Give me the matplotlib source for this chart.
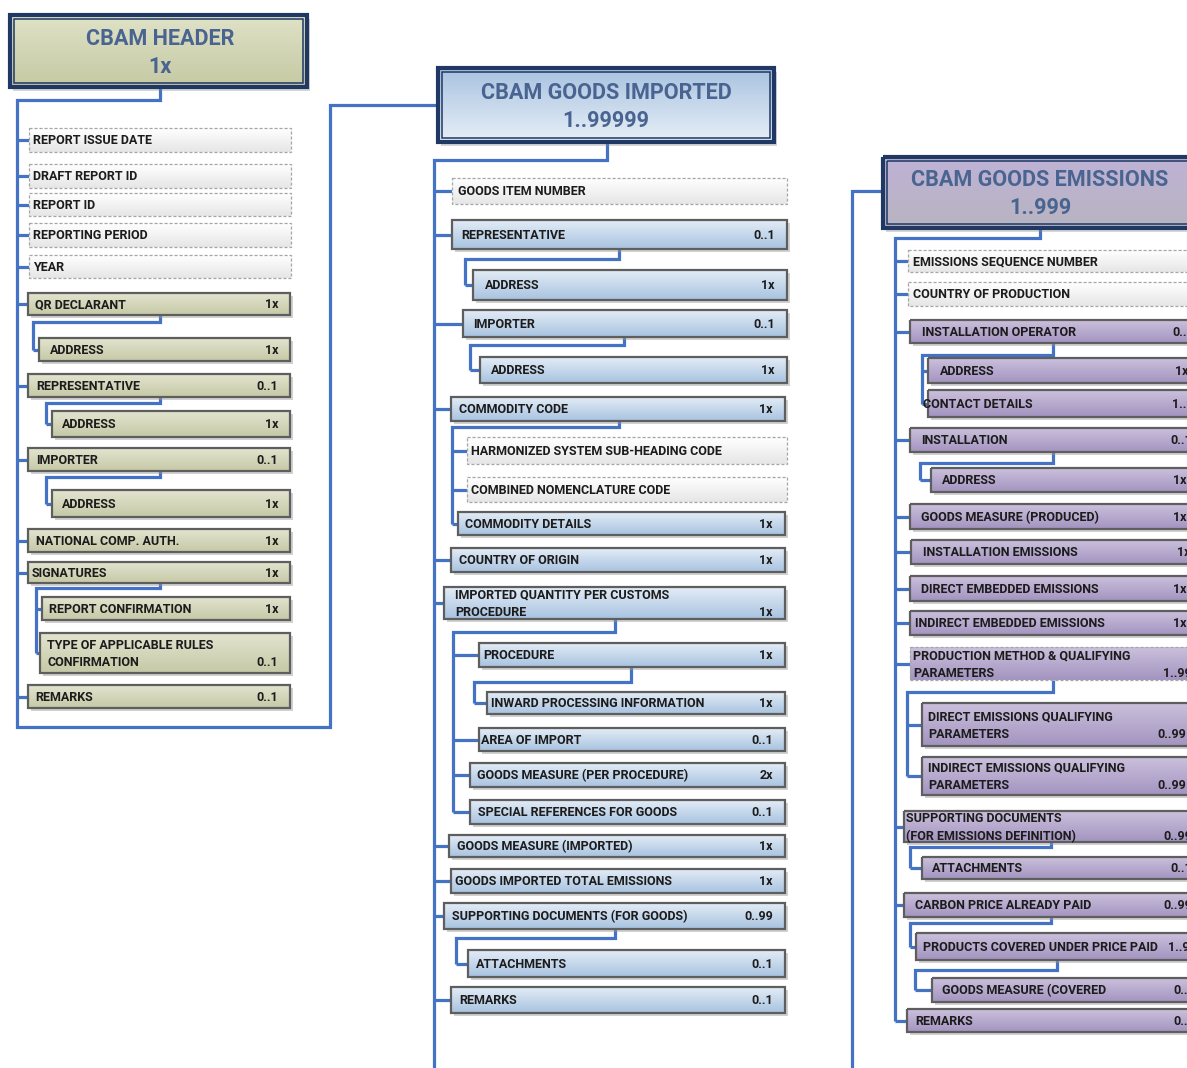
import numpy as np
import matplotlib
matplotlib.use("Agg")
import matplotlib.pyplot as plt
from matplotlib.patches import Rectangle
from matplotlib.colors import LinearSegmentedColormap

plt.rcParams["font.family"] = ["Roboto", "DejaVu Sans"]

W, H = 1187, 1068

# ---------------- data: labels and cardinalities ----------------
TITLES = ["CBAM HEADER", "CBAM GOODS IMPORTED", "CBAM GOODS EMISSIONS"]
TITLE_CARDS = ["1x", "1..99999", "1..999"]

HEADER_LABELS = ["REPORT ISSUE DATE", "DRAFT REPORT ID", "REPORT ID", "REPORTING PERIOD",
                 "YEAR", "QR DECLARANT", "ADDRESS", "REPRESENTATIVE", "ADDRESS", "IMPORTER",
                 "ADDRESS", "NATIONAL COMP. AUTH.", "SIGNATURES", "REPORT CONFIRMATION",
                 "TYPE OF APPLICABLE RULES\nCONFIRMATION", "REMARKS"]
HEADER_CARDS = ["", "", "", "", "", "1x", "1x", "0..1", "1x", "0..1", "1x", "1x", "1x",
                "1x", "0..1", "0..1"]
HEADER_DASHED = [True] * 5 + [False] * 11

GOODS_LABELS = ["GOODS ITEM NUMBER", "REPRESENTATIVE", "ADDRESS", "IMPORTER", "ADDRESS",
                "COMMODITY CODE", "HARMONIZED SYSTEM SUB-HEADING CODE",
                "COMBINED NOMENCLATURE CODE", "COMMODITY DETAILS", "COUNTRY OF ORIGIN",
                "IMPORTED QUANTITY PER CUSTOMS\nPROCEDURE", "PROCEDURE",
                "INWARD PROCESSING INFORMATION", "AREA OF IMPORT",
                "GOODS MEASURE (PER PROCEDURE)", "SPECIAL REFERENCES FOR GOODS",
                "GOODS MEASURE (IMPORTED)", "GOODS IMPORTED TOTAL EMISSIONS",
                "SUPPORTING DOCUMENTS (FOR GOODS)", "ATTACHMENTS", "REMARKS"]
GOODS_CARDS = ["", "0..1", "1x", "0..1", "1x", "1x", "", "", "1x", "1x", "1x", "1x", "1x",
               "0..1", "2x", "0..1", "1x", "1x", "0..99", "0..1", "0..1"]
GOODS_DASHED = [i in (0, 6, 7) for i in range(len(GOODS_LABELS))]

EMIS_LABELS = ["EMISSIONS SEQUENCE NUMBER", "COUNTRY OF PRODUCTION", "INSTALLATION OPERATOR",
               "ADDRESS", "CONTACT DETAILS", "INSTALLATION", "ADDRESS",
               "GOODS MEASURE (PRODUCED)", "INSTALLATION EMISSIONS",
               "DIRECT EMBEDDED EMISSIONS", "INDIRECT EMBEDDED EMISSIONS",
               "PRODUCTION METHOD & QUALIFYING\nPARAMETERS",
               "DIRECT EMISSIONS QUALIFYING\nPARAMETERS",
               "INDIRECT EMISSIONS QUALIFYING\nPARAMETERS",
               "SUPPORTING DOCUMENTS\n(FOR EMISSIONS DEFINITION)", "ATTACHMENTS",
               "CARBON PRICE ALREADY PAID", "PRODUCTS COVERED UNDER PRICE PAID",
               "GOODS MEASURE (COVERED", "REMARKS"]
EMIS_CARDS = ["", "", "0..1", "1x", "1..99", "0..1", "1x", "1x", "1x", "1x", "1x", "1..99",
              "0..99", "0..99", "0..99", "0..1", "0..99", "1..99", "0..1", "0..1"]
EMIS_DASHED = [i in (0, 1, 11) for i in range(len(EMIS_LABELS))]
EMIS_FILLED = [i not in (0, 1) for i in range(len(EMIS_LABELS))]

# ---------------- layout (pixel space) ----------------
TITLE_BOXES = [(10, 15, 307, 87), (438, 68, 774, 142), (883, 157, 1205, 228)]
TITLE_CX = [160, 606, 1040]

HEADER_BOXES = [(29, 128, 291, 152), (29, 164, 291, 188), (29, 193, 291, 216),
                (29, 223, 291, 247), (29, 255, 291, 278), (28, 293, 290, 315),
                (39, 338, 290, 361), (28, 374, 290, 397), (52, 411, 290, 437),
                (28, 448, 290, 471), (52, 490, 290, 517), (28, 529, 290, 552),
                (28, 562, 290, 583), (42, 597, 290, 620), (40, 633, 290, 673),
                (28, 685, 290, 708)]
HEADER_TX = [33, 33, 33, 33, 33, 35, 50, 36, 62, 36, 62, 36, 32, 49, 47, 35]
HEADER_SUB = [(5, 160, 322, 33, [6]), (7, 160, 403, 46, [8]), (9, 160, 477, 46, [10]),
              (12, 160, 588, 36, [13, 14])]

GOODS_BOXES = [(452, 178, 787, 204), (452, 220, 787, 249), (473, 270, 787, 300),
               (463, 310, 787, 337), (480, 357, 787, 383), (451, 397, 785, 421),
               (467, 437, 787, 464), (467, 477, 787, 502), (458, 512, 785, 535),
               (451, 548, 785, 572), (444, 587, 785, 619), (479, 643, 785, 667),
               (487, 692, 785, 714), (479, 728, 785, 751), (470, 763, 785, 787),
               (470, 800, 785, 824), (449, 835, 785, 857), (451, 869, 785, 893),
               (444, 903, 785, 929), (468, 950, 785, 977), (451, 987, 785, 1013)]
GOODS_TX = [458, 461, 485, 473, 491, 459, 471, 471, 465, 459, 455, 483, 491, 481, 477,
            478, 457, 455, 452, 476, 459]
GOODS_SUB = [(1, 619, 259, 465, [2]), (3, 624, 345, 470, [4]),
             (5, 619, 427, 452, [6, 7, 8]), (10, 615, 632, 453, [11, 13, 14, 15]),
             (11, 631, 682, 474, [12]), (18, 615, 938, 456, [19])]

EMIS_BOXES = [(908, 250, 1197, 272), (908, 282, 1197, 306), (910, 320, 1197, 343),
              (928, 358, 1197, 383), (928, 390, 1197, 417), (910, 428, 1197, 452),
              (931, 468, 1197, 492), (910, 504, 1197, 529), (911, 540, 1197, 564),
              (910, 576, 1197, 601), (910, 611, 1197, 635), (910, 647, 1197, 680),
              (922, 703, 1197, 746), (922, 757, 1197, 795), (904, 811, 1197, 842),
              (922, 857, 1197, 879), (904, 893, 1197, 917), (916, 933, 1197, 960),
              (932, 978, 1197, 1002), (907, 1009, 1197, 1032)]
EMIS_TX = [913, 913, 922, 940, 923, 921, 942, 921, 923, 921, 915, 913, 928, 928, 906,
           932, 915, 923, 942, 915]
EMIS_CARD_X = [0, 0, 1172, 1175, 1172, 1170, 1173, 1173, 1177, 1173, 1173, 1163, 1157,
               1157, 1163, 1170, 1163, 1168, 1173, 1173]
EMIS_SUB = [(2, 1053, 355, 922, [3, 4]), (5, 1053, 463, 920, [6]),
            (11, 1053, 692, 907, [12, 13]), (14, 1051, 847, 910, [15]),
            (16, 1051, 923, 910, [17]), (17, 1057, 970, 915, [18])]

LINE_C = "#4472c4"
LINE_W = 2.3
TEXT_FS = 9.0
TITLE_FS = 15.6
TITLE_C = "#4a6491"

fig = plt.figure(figsize=(W / 100, H / 100), dpi=100)
ax = fig.add_axes([0, 0, 1, 1])
ax.set_xlim(0, W)
ax.set_ylim(H, 0)
ax.axis("off")


def gradient(x0, y0, x1, y1, top, bot, z):
    cmap = LinearSegmentedColormap.from_list("g", [top, bot])
    ax.imshow(np.linspace(0, 1, 48).reshape(-1, 1), cmap=cmap, aspect="auto",
              extent=(x0, x1, y1, y0), interpolation="bilinear", zorder=z)


def line(pts):
    xs, ys = zip(*pts)
    ax.plot(xs, ys, color=LINE_C, lw=LINE_W, solid_joinstyle="miter",
            solid_capstyle="butt", zorder=1)


def draw_title(i, top, bot):
    x0, y0, x1, y1 = TITLE_BOXES[i]
    ax.add_patch(Rectangle((x0 + 3, y0 + 4), x1 - x0, y1 - y0, fc="#8c8c8c",
                           alpha=0.35, lw=0, zorder=3))
    gradient(x0, y0, x1, y1, top, bot, 4)
    ax.add_patch(Rectangle((x0, y0), x1 - x0, y1 - y0, fill=False, ec="#1f3864",
                           lw=3.0, zorder=5))
    ax.add_patch(Rectangle((x0 + 4, y0 + 4), x1 - x0 - 8, y1 - y0 - 8, fill=False,
                           ec="#1f3864", lw=1.1, zorder=5))
    cy = (y0 + y1) / 2
    ax.text(TITLE_CX[i], cy - 14 + 7.7, TITLES[i], ha="center", va="baseline",
            fontsize=TITLE_FS, fontweight="bold", color=TITLE_C, zorder=6)
    ax.text(TITLE_CX[i], cy + 14 + 7.7, TITLE_CARDS[i], ha="center", va="baseline",
            fontsize=TITLE_FS, fontweight="bold", color=TITLE_C, zorder=6)


def draw_items(labels, cards, dashed, boxes, tx, top, bot, card_x=None, filled=None):
    for k, lab in enumerate(labels):
        x0, y0, x1, y1 = boxes[k]
        is_filled = (not dashed[k]) if filled is None else filled[k]
        if is_filled:
            gradient(x0, y0, x1, y1, top, bot, 3)
        else:
            gradient(x0, y0, x1, y1, "#ffffff", "#e6e6e6", 3)
        if dashed[k]:
            ax.add_patch(Rectangle((x0, y0), x1 - x0, y1 - y0, fill=False, ec="#a6a6a6",
                                   lw=0.9, ls=(0, (2.5, 1.5)), zorder=4))
        else:
            ax.add_patch(Rectangle((x0 + 2.5, y0 + 2.5), x1 - x0, y1 - y0, fc="#9a9a9a",
                                   alpha=0.45, lw=0, zorder=2))
            ax.add_patch(Rectangle((x0, y0), x1 - x0, y1 - y0, fill=False, ec="#5e5e5e",
                                   lw=1.6, zorder=4))
        cy = (y0 + y1) / 2
        rows = lab.split("\n")
        step = 17.5
        start = cy - step * (len(rows) - 1) / 2
        for r, t in enumerate(rows):
            ax.text(tx[k], start + r * step + 4.4, t, ha="left", va="baseline",
                    fontsize=TEXT_FS, fontweight="bold", color="#1c1c1c", zorder=6)
        if cards[k]:
            cyl = start + (len(rows) - 1) * step + 4.4
            if card_x is None:
                ax.text(x1 - 12, cyl, cards[k], ha="right", va="baseline",
                        fontsize=TEXT_FS, fontweight="bold", color="#1c1c1c", zorder=6)
            else:
                ax.text(card_x[k], cyl, cards[k], ha="left", va="baseline",
                        fontsize=TEXT_FS, fontweight="bold", color="#1c1c1c", zorder=6)


def draw_links(boxes, subs, trunk_x):
    children = set()
    for parent, dx, ty, sx, kids in subs:
        children.update(kids)
        py = boxes[parent][3]
        last_cy = (boxes[kids[-1]][1] + boxes[kids[-1]][3]) / 2
        line([(dx, py), (dx, ty), (sx, ty), (sx, last_cy)])
        for kid in kids:
            cy = (boxes[kid][1] + boxes[kid][3]) / 2
            line([(sx, cy), (boxes[kid][0], cy)])
    for k, b in enumerate(boxes):
        if k not in children:
            cy = (b[1] + b[3]) / 2
            line([(trunk_x, cy), (b[0], cy)])


# header column
line([(160, 87), (160, 100), (17, 100), (17, 727), (330, 727), (330, 105), (438, 105)])
draw_links(HEADER_BOXES, HEADER_SUB, 17)
draw_title(0, "#dfe2c6", "#c5c9a3")
draw_items(HEADER_LABELS, HEADER_CARDS, HEADER_DASHED, HEADER_BOXES, HEADER_TX,
           "#e2e4cf", "#c6c9a6")

# goods imported column
line([(607, 142), (607, 160), (434, 160), (434, H + 5)])
draw_links(GOODS_BOXES, GOODS_SUB, 434)
draw_title(1, "#a9c3e0", "#e6eef7")
draw_items(GOODS_LABELS, GOODS_CARDS, GOODS_DASHED, GOODS_BOXES, GOODS_TX,
           "#e3ecf6", "#a8c3e0")

# goods emissions column
line([(883, 191), (852, 191), (852, H + 5)])
em_last = (EMIS_BOXES[-1][1] + EMIS_BOXES[-1][3]) / 2
line([(1040, 228), (1040, 238), (895, 238), (895, em_last)])
draw_links(EMIS_BOXES, EMIS_SUB, 895)
draw_title(2, "#beb2d5", "#b8b4c1")
draw_items(EMIS_LABELS, EMIS_CARDS, EMIS_DASHED, EMIS_BOXES, EMIS_TX,
           "#cbc0dc", "#a394c0", card_x=EMIS_CARD_X, filled=EMIS_FILLED)

fig.savefig("out.png", dpi=100)
